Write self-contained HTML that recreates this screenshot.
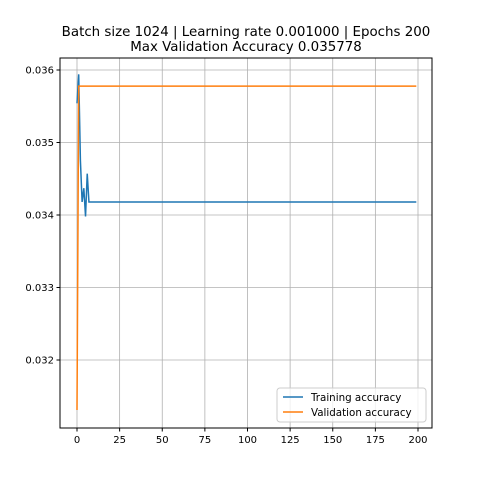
<!DOCTYPE html>
<html><head><meta charset="utf-8"><style>
body{margin:0;background:#fff}
svg{display:block;font-family:"DejaVu Sans","Liberation Sans",sans-serif}
</style></head><body>
<svg id="c" width="480" height="480" viewBox="0 0 480 480">
<rect width="480" height="480" fill="#fff"/>
<text x="246" y="36" font-size="13.4" text-anchor="middle">Batch size 1024 | Learning rate 0.001000 | Epochs 200</text>
<text x="246" y="51" font-size="13.4" text-anchor="middle">Max Validation Accuracy 0.035778</text>
<g id="grid"></g><g id="ticks"></g><g id="series"></g>
<rect x="60" y="58" width="372" height="370" fill="none" stroke="#000" stroke-width="1"/>
<g>
<rect x="277" y="388" width="149" height="34" rx="3" fill="#fff" fill-opacity="0.8" stroke="#ccc"/>
<line x1="283" y1="397" x2="303" y2="397" stroke="#1f77b4" stroke-width="1.5"/>
<text x="311" y="401" font-size="10.3">Training accuracy</text>
<line x1="283" y1="412" x2="303" y2="412" stroke="#ff7f0e" stroke-width="1.5"/>
<text x="311" y="416" font-size="10.3">Validation accuracy</text>
</g>
</svg>
<script>
const trainHead=[0.03554,0.03594,0.03475,0.03418,0.03437,0.03398,0.03457];
const trainTail=0.03418;
const valHead=[0.03131];
const valTail=0.035778;
const xTicks=[0,25,50,75,100,125,150,175,200];
const yTicks=[0.032,0.033,0.034,0.035,0.036];
const nEpochs=200;
const X=v=>77+v*(418-77)/200;
const Y=v=>70+(0.036-v)*72.5*1000;
const ns="http://www.w3.org/2000/svg";
function mk(t,a,p){const e=document.createElementNS(ns,t);for(const k in a)e.setAttribute(k,a[k]);p.appendChild(e);return e;}
const g=document.getElementById('grid'),tk=document.getElementById('ticks'),s=document.getElementById('series');
xTicks.forEach(v=>{
const l=mk('line',{x1:X(v),x2:X(v),y1:58,y2:428,stroke:'#b0b0b0','stroke-width':0.8},g);


mk('line',{x1:X(v),x2:X(v),y1:428,y2:431.5,stroke:'#000'},tk);
const t=mk('text',{x:X(v),y:443,'font-size':10,'text-anchor':'middle'},tk);t.textContent=v;


});
yTicks.forEach(v=>{
const l=mk('line',{x1:60,x2:432,y1:Y(v),y2:Y(v),stroke:'#b0b0b0','stroke-width':0.8},g);


mk('line',{x1:56.5,x2:60,y1:Y(v),y2:Y(v),stroke:'#000'},tk);
const t=mk('text',{x:54,y:Y(v)+3.5,'font-size':10,'text-anchor':'end'},tk);t.textContent=v.toFixed(3);


});
function series(head,tail,color,name){
const vals=[];for(let i=0;i<nEpochs;i++)vals.push(i<head.length?head[i]:tail);
const d=vals.map((v,i)=>(i?'L':'M')+X(i).toFixed(2)+','+Y(v).toFixed(2)).join('');
const p=mk('path',{d:d,fill:'none',stroke:color,'stroke-width':1.5},s);


}
series(trainHead,trainTail,'#1f77b4','training-accuracy-line');
series(valHead,valTail,'#ff7f0e','validation-accuracy-line');
</script>
</body></html>
